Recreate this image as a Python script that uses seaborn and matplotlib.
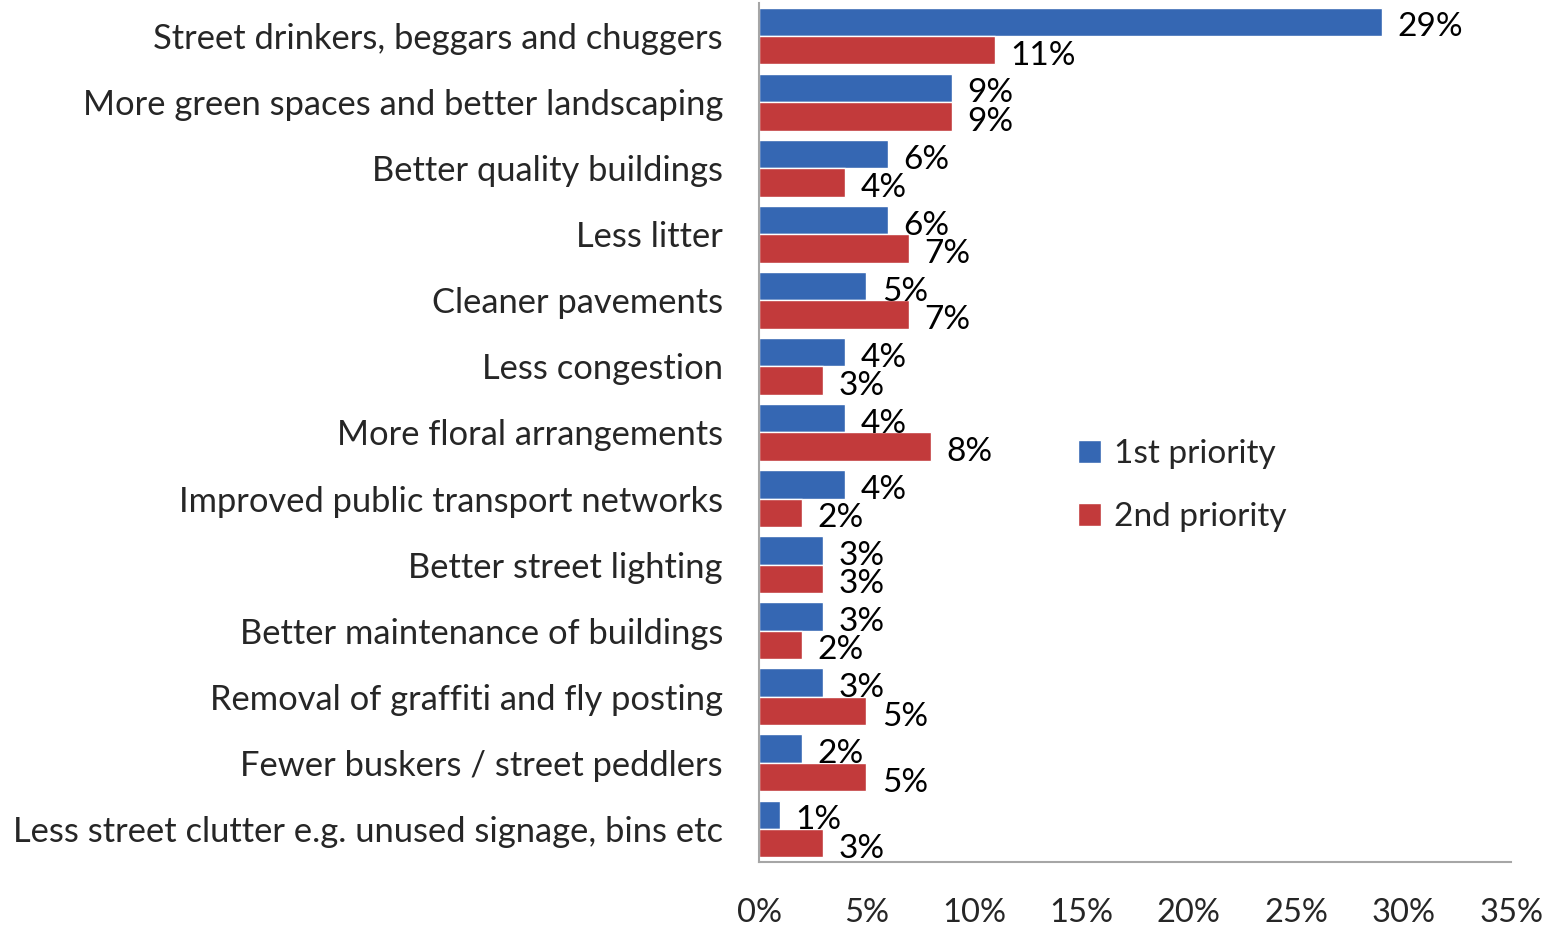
import pandas as pd
import matplotlib.pyplot as plt
import seaborn as sns

# Data
categories = [
    "Street drinkers, beggars and chuggers",
    "More green spaces and better landscaping",
    "Better quality buildings",
    "Less litter",
    "Cleaner pavements",
    "Less congestion",
    "More floral arrangements",
    "Improved public transport networks",
    "Better street lighting",
    "Better maintenance of buildings",
    "Removal of graffiti and fly posting",
    "Fewer buskers / street peddlers",
    "Less street clutter e.g. unused signage, bins etc",
]
first_priority = [29, 9, 6, 6, 5, 4, 4, 4, 3, 3, 3, 2, 1]
second_priority = [11, 9, 4, 7, 7, 3, 8, 2, 3, 2, 5, 5, 3]
series_names = ["1st priority", "2nd priority"]
x_ticks = [0, 5, 10, 15, 20, 25, 30, 35]

df = pd.DataFrame({
    "item": categories * 2,
    "value": first_priority + second_priority,
    "priority": [series_names[0]] * len(categories) + [series_names[1]] * len(categories),
})

sns.set_style("white")
plt.rcParams["font.family"] = ["Lato", "DejaVu Sans"]

fig = plt.figure(figsize=(15.49, 9.27), dpi=100)
ax = fig.add_axes([0.49, 0.0701, 0.4855, 0.9267])

palette = {"1st priority": "#3567b3", "2nd priority": "#c23a3b"}
sns.barplot(data=df, y="item", x="value", hue="priority", orient="h",
            palette=palette, width=0.86, saturation=1, ax=ax)

# value labels
for container in ax.containers:
    anns = ax.bar_label(container, labels=[f"{v:.0f}%" for v in container.datavalues],
                        fontsize=24, color="black")
    for a in anns:
        a.xyann = (11, -4)

ax.set_xlim(0, 35)
ax.set_xticks(x_ticks)
ax.set_xticklabels([f"{t}%" for t in x_ticks])
ax.set_xlabel("")
ax.set_ylabel("")
ax.tick_params(axis="x", length=0, pad=26, labelsize=23.5)
ax.tick_params(axis="y", length=0, pad=26, labelsize=24.8)

for side in ["top", "right"]:
    ax.spines[side].set_visible(False)
for side in ["left", "bottom"]:
    ax.spines[side].set_color("#a6a6a6")
    ax.spines[side].set_linewidth(1.5)

leg = ax.legend(loc="center left", bbox_to_anchor=(0.384, 0.438), frameon=False,
                fontsize=24, handlelength=0.7, handleheight=0.7,
                labelspacing=1.0, handletextpad=0.4)

fig.savefig("out.png", dpi=100)
